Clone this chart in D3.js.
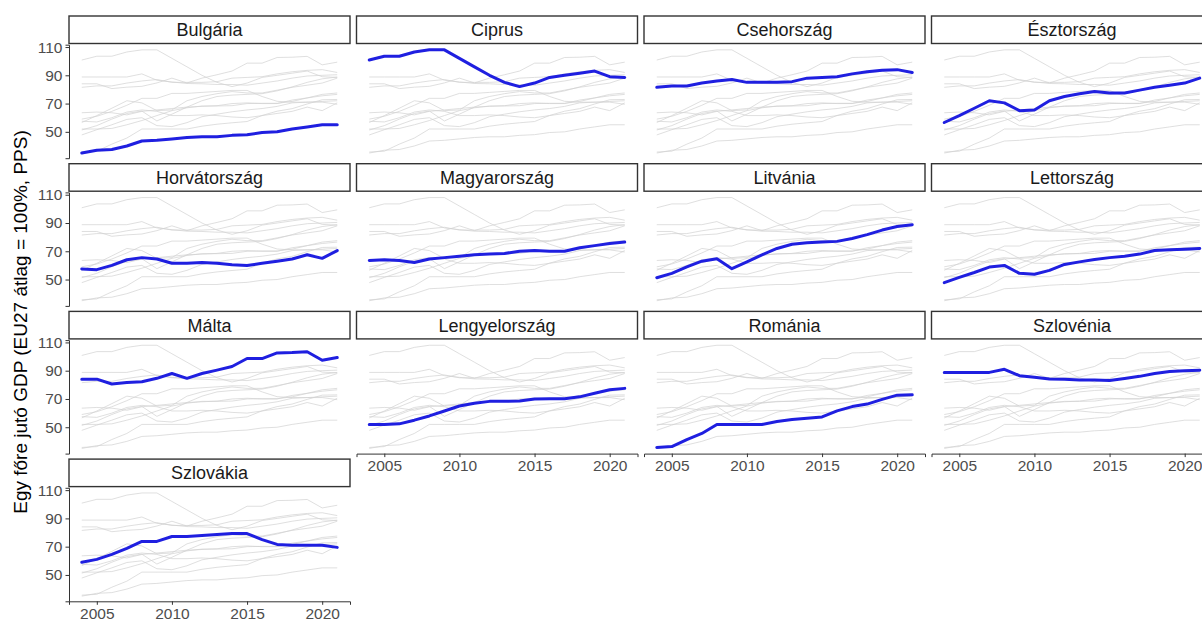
<!DOCTYPE html>
<html>
<head>
<meta charset="utf-8">
<script src="https://cdn.jsdelivr.net/npm/d3@7"></script>
<style>
  body { margin: 0; background: #fff; }
  svg { display: block; font-family: "Liberation Sans", Arial, sans-serif; }
</style>
</head>
<body>
<svg id="chart" width="1202" height="621"></svg>
<script>
// GDP per capita in PPS, EU27 average = 100, 2004–2021
const years = [2004, 2005, 2006, 2007, 2008, 2009, 2010, 2011, 2012,
               2013, 2014, 2015, 2016, 2017, 2018, 2019, 2020, 2021];

const countries = ["Bulgária", "Ciprus", "Csehország", "Észtország",
                   "Horvátország", "Magyarország", "Litvánia", "Lettország",
                   "Málta", "Lengyelország", "Románia", "Szlovénia", "Szlovákia"];

const bulgaria   = [35, 37, 37.5, 40, 43.5, 44, 45, 46, 46.5, 46.5, 47.5, 48, 49.5, 50, 52, 53.5, 55, 55];
const cyprus     = [100.8, 103.5, 103.5, 106.5, 108, 108, 102, 96, 90, 85, 82, 84.5, 88.5, 90, 91.5, 93, 89, 88.5];
const czechia    = [81.5, 82.5, 82.5, 84.5, 86, 87, 85, 85, 85, 85.5, 88, 88.5, 89, 91, 92.5, 93.5, 94, 92];
const estonia    = [56.6, 61.5, 66.7, 72, 70.5, 65, 65.5, 72, 75, 77, 78.5, 77.5, 77.5, 79.5, 81.5, 83, 84.5, 88];
const croatia    = [57.5, 57, 60, 64, 65.5, 64.5, 61.5, 61.5, 62, 61.5, 60.5, 60, 61.5, 63, 64.5, 67.5, 65, 70.5];
const hungary    = [63.5, 64, 63.5, 62, 64.5, 65.5, 66.5, 67.5, 68, 68.5, 70, 70.5, 70, 70, 72.5, 74, 75.5, 76.5];
const lithuania  = [51.3, 54.4, 59, 63, 64.7, 57.7, 62.5, 67.5, 72, 75, 76, 76.5, 77, 79, 81.8, 85, 87.5, 88.8];
const latvia     = [47.8, 51.5, 55, 58.8, 60, 54.4, 53.7, 56.5, 60.7, 62.5, 64.2, 65.5, 66.5, 68, 70.5, 71, 71.5, 72];
const malta      = [84, 84, 80.6, 81.6, 82.2, 84.6, 88, 84.6, 88, 90.4, 93, 98.6, 98.6, 102.6, 102.8, 103.4, 97.4, 99.3];
const poland     = [52, 52, 52.4, 55, 58, 61.5, 65, 67, 68.3, 68.3, 68.5, 70, 70.2, 70.2, 71.5, 74, 76.5, 77.5];
const romania    = [35.7, 36.3, 41.3, 45.6, 52, 52, 52, 52, 54, 55.4, 56.4, 57.3, 61.6, 64.6, 66.4, 69.7, 72.7, 72.9];
const slovenia   = [88.8, 88.8, 88.8, 88.8, 91, 86.5, 85.3, 84.2, 84, 83.5, 83.5, 83, 84.5, 86, 88, 89.5, 90, 90.4];
const slovakia   = [59, 61, 64.5, 68.8, 73.7, 73.7, 77.2, 77.2, 77.9, 78.6, 79.3, 79.3, 75, 71.6, 71, 71, 71, 69.5];

const series = [bulgaria, cyprus, czechia, estonia, croatia, hungary, lithuania,
                latvia, malta, poland, romania, slovenia, slovakia];

const yTicks = [50, 70, 90, 110];
const xTicks = [2005, 2010, 2015, 2020];
const yTitle = "Egy főre jutó GDP (EU27 átlag = 100%, PPS)";

// facet grid geometry
const nCol = 4;
const panelW = 281, panelH = 113.5;
const colStep = 287.5, rowStep = 147.7;
const left0 = 69, top0 = 44.7;
const stripH = 27.5, stripGap = 1.2;

const svg = d3.select("#chart");

const x = d3.scaleLinear()
  .domain([2004 - 0.85, 2021 + 0.85])
  .range([0, panelW]);
const y = d3.scaleLinear()
  .domain([31.35, 111.65])
  .range([panelH, 0]);

const line = d3.line()
  .x((d, i) => x(years[i]))
  .y(d => y(d));

countries.forEach((name, idx) => {
  const col = idx % nCol, row = Math.floor(idx / nCol);
  const g = svg.append("g")
    .attr("transform", `translate(${left0 + col * colStep},${top0 + row * rowStep})`);

  // strip label
  g.append("rect")
    .attr("x", 0).attr("y", -stripH - stripGap)
    .attr("width", panelW).attr("height", stripH)
    .attr("fill", "#fff").attr("stroke", "#333").attr("stroke-width", 1.4);
  g.append("text")
    .attr("x", panelW / 2).attr("y", -stripGap - stripH / 2)
    .attr("dy", "0.36em")
    .attr("text-anchor", "middle")
    .attr("font-size", 18)
    .attr("fill", "#1a1a1a")
    .text(name);

  // all countries in the background
  g.append("g")
    .selectAll("path")
    .data(series)
    .join("path")
    .attr("d", line)
    .attr("fill", "none")
    .attr("stroke", "#d2d2d2")
    .attr("stroke-opacity", 0.7)
    .attr("stroke-width", 1);

  // highlighted country
  g.append("path")
    .datum(series[idx])
    .attr("d", line)
    .attr("fill", "none")
    .attr("stroke", "#1f1fe0")
    .attr("stroke-width", 3)
    .attr("stroke-linejoin", "round")
    .attr("stroke-linecap", "round");

  // y axis on the first column
  if (col === 0) {
    const ya = g.append("g")
      .call(d3.axisLeft(y).tickValues(yTicks).tickSize(3.5).tickPadding(3));
    ya.select(".domain").attr("stroke", "#333").attr("stroke-width", 1);
    ya.selectAll(".tick line").attr("stroke", "#333");
    ya.selectAll(".tick text")
      .attr("fill", "#4d4d4d")
      .attr("font-size", 15.5)
      .attr("font-family", null);
  }

  // x axis on the bottom panel of each column
  if (idx + nCol >= countries.length) {
    const xa = g.append("g")
      .attr("transform", `translate(0,${panelH})`)
      .call(d3.axisBottom(x).tickValues(xTicks).tickFormat(d3.format("d")).tickSize(3.5).tickPadding(3));
    xa.select(".domain").attr("stroke", "#333").attr("stroke-width", 1);
    xa.selectAll(".tick line").attr("stroke", "#333");
    xa.selectAll(".tick text")
      .attr("fill", "#4d4d4d")
      .attr("font-size", 15.5)
      .attr("font-family", null);
  }
});

// y axis title
svg.append("text")
  .attr("transform", "translate(20,322) rotate(-90)")
  .attr("text-anchor", "middle")
  .attr("dy", "0.36em")
  .attr("font-size", 19)
  .attr("fill", "#000")
  .text(yTitle);
</script>
</body>
</html>
